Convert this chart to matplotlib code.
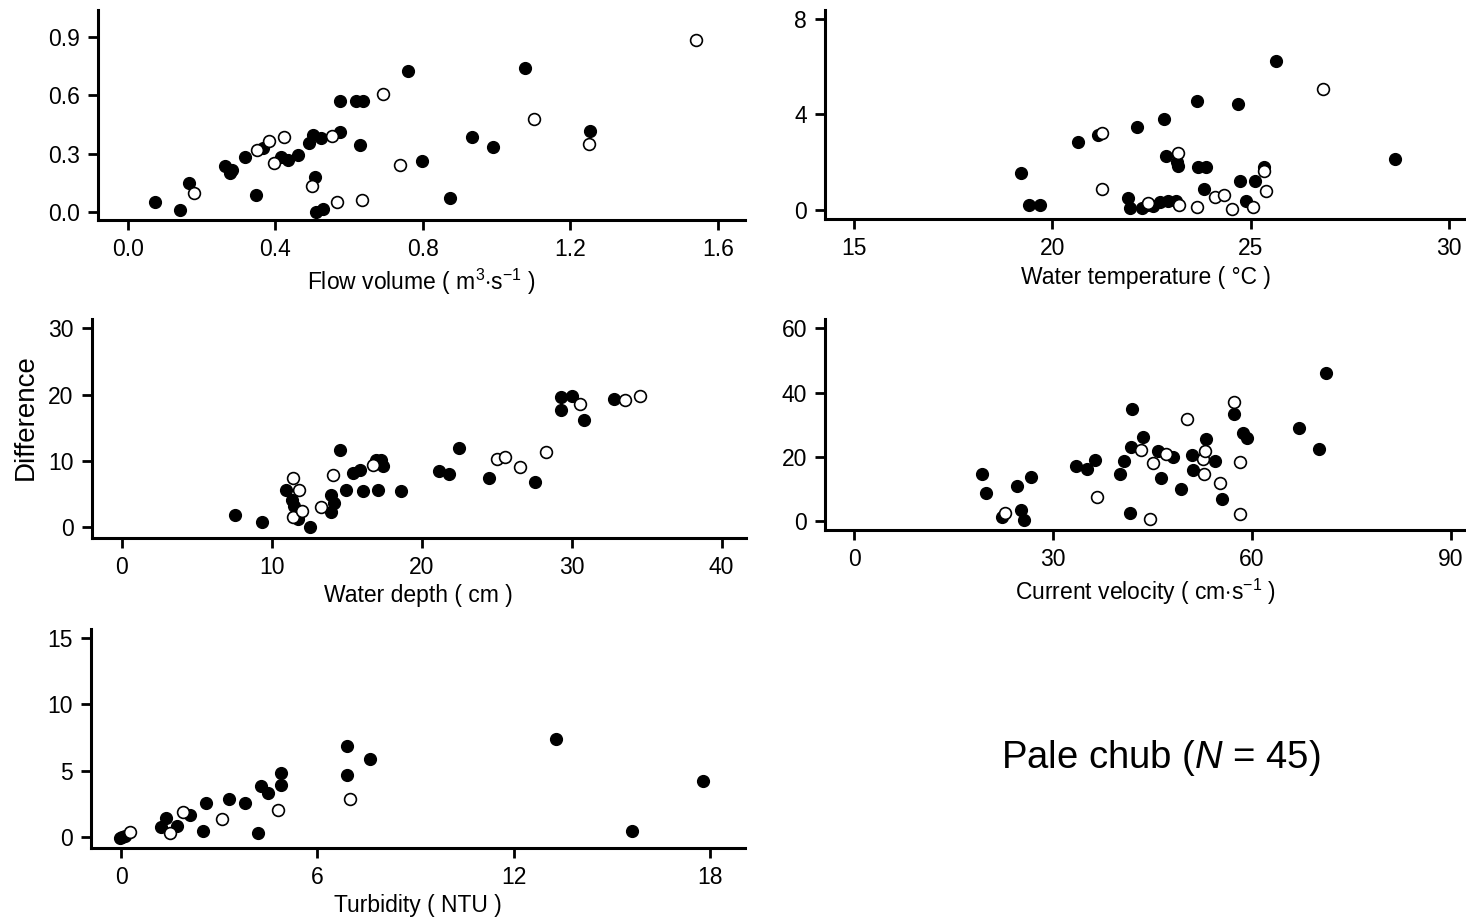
import matplotlib
matplotlib.use("Agg")
import matplotlib.pyplot as plt

plt.rcParams['font.family'] = ['Liberation Sans', 'DejaVu Sans']
plt.rcParams['mathtext.fontset'] = 'custom'
plt.rcParams['mathtext.rm'] = 'Liberation Sans'
plt.rcParams['mathtext.it'] = 'Liberation Sans:italic'

# ---- flow volume ----
flow_x_filled = [0.074, 0.143, 0.166, 0.265, 0.278, 0.283, 0.318, 0.347, 0.368, 0.417,
                 0.434, 0.462, 0.491, 0.503, 0.523, 0.509, 0.512, 0.529, 0.575, 0.575,
                 0.619, 0.637, 0.631, 0.760, 0.797, 0.874, 0.933, 0.990, 1.078, 1.255]
flow_y_filled = [0.048, 0.009, 0.148, 0.236, 0.202, 0.215, 0.284, 0.088, 0.331, 0.284,
                 0.267, 0.291, 0.353, 0.397, 0.381, 0.178, -0.002, 0.014, 0.409, 0.569,
                 0.569, 0.569, 0.343, 0.728, 0.260, 0.071, 0.388, 0.333, 0.741, 0.417]
flow_x_open = [0.181, 0.351, 0.383, 0.425, 0.398, 0.501, 0.554, 0.568, 0.635, 0.693,
               0.739, 1.101, 1.251, 1.541]
flow_y_open = [0.097, 0.316, 0.364, 0.384, 0.253, 0.131, 0.391, 0.048, 0.059, 0.605,
               0.241, 0.479, 0.347, 0.886]

# ---- water temperature ----
temp_x_filled = [19.21, 19.41, 19.69, 20.64, 21.15, 22.13, 22.81, 22.86, 23.14, 23.16,
                 23.64, 23.68, 23.87, 23.83, 24.68, 24.74, 25.12, 25.33, 24.89, 25.64,
                 28.63, 21.92, 21.96, 22.26, 22.39, 22.54, 22.71, 22.92, 23.12]
temp_y_filled = [1.52, 0.20, 0.20, 2.84, 3.13, 3.49, 3.80, 2.25, 1.99, 1.85,
                 4.55, 1.81, 1.80, 0.88, 4.45, 1.19, 1.22, 1.78, 0.38, 6.25,
                 2.13, 0.49, 0.06, 0.07, 0.21, 0.14, 0.34, 0.35, 0.38]
temp_x_open = [21.26, 23.18, 25.34, 25.38, 21.26, 22.42, 23.20, 23.64, 24.11, 24.32,
               24.53, 25.06, 26.83]
temp_y_open = [3.21, 2.37, 1.61, 0.80, 0.88, 0.29, 0.21, 0.11, 0.55, 0.62,
               0.01, 0.11, 5.05]

# ---- water depth ----
depth_x_filled = [7.54, 9.37, 10.93, 11.35, 11.51, 11.77, 12.55, 13.92, 14.15, 13.92,
                  14.54, 14.93, 15.41, 15.90, 16.07, 16.94, 17.27, 17.40, 17.07, 18.60,
                  21.17, 21.82, 22.50, 24.46, 27.58, 29.27, 30.05, 29.27, 30.83, 32.85]
depth_y_filled = [1.91, 0.81, 5.69, 4.13, 3.22, 1.31, 0.10, 4.93, 3.62, 2.37,
                  11.68, 5.69, 8.25, 8.71, 5.49, 10.17, 10.07, 9.26, 5.64, 5.49,
                  8.50, 8.00, 11.88, 7.40, 6.84, 19.58, 19.83, 17.72, 16.10, 19.33]
depth_x_open = [11.38, 11.84, 11.38, 12.00, 13.27, 14.08, 16.78, 25.01, 25.56, 26.57,
                28.29, 30.57, 33.59, 34.54]
depth_y_open = [7.40, 5.64, 1.51, 2.42, 3.12, 7.95, 9.36, 10.32, 10.57, 9.16,
                11.32, 18.52, 19.22, 19.83]

# ---- current velocity ----
vel_x_filled = [19.34, 19.91, 24.53, 25.10, 22.31, 25.60, 26.68, 33.44, 35.08, 36.35,
                40.14, 40.71, 41.72, 41.97, 41.66, 43.49, 45.83, 46.33, 48.04, 49.37,
                51.01, 51.14, 53.10, 54.42, 55.44, 57.33, 58.66, 59.29, 67.07, 70.10, 71.24]
vel_y_filled = [14.55, 8.63, 10.92, 3.43, 1.14, 0.42, 13.72, 17.26, 16.22, 18.92,
                14.66, 18.71, 23.08, 34.82, 2.60, 26.09, 21.83, 13.51, 19.96, 9.98,
                20.48, 16.01, 25.57, 18.82, 6.86, 33.16, 27.34, 25.78, 29.11, 22.35, 46.05]
vel_x_open = [22.76, 36.66, 43.30, 45.07, 46.97, 44.63, 50.13, 52.65, 52.91, 52.84,
              55.12, 57.27, 58.22, 58.22]
vel_y_open = [2.39, 7.59, 22.04, 18.09, 20.89, 0.62, 31.91, 19.33, 21.73, 14.55,
              11.95, 36.90, 18.40, 2.29]

# ---- turbidity ----
turb_x_filled = [-0.03, 0.03, 0.12, 1.21, 1.39, 1.71, 2.11, 2.50, 2.60, 3.31,
                 3.80, 4.20, 4.29, 4.49, 4.90, 4.90, 6.91, 6.91, 7.60, 13.30,
                 15.62, 17.80]
turb_y_filled = [-0.08, 0.05, 0.10, 0.75, 1.43, 0.88, 1.68, 0.50, 2.59, 2.86,
                 2.59, 0.30, 3.84, 3.37, 3.97, 4.87, 4.67, 6.86, 5.88, 7.39,
                 0.50, 4.27]
turb_x_open = [0.29, 1.49, 1.90, 3.10, 4.80, 7.01]
turb_y_open = [0.38, 0.30, 1.91, 1.41, 2.09, 2.89]

W, H = 1466, 918
fig = plt.figure(figsize=(W / 100, H / 100), dpi=100)


def make_ax(left, right, top, bottom):
    return fig.add_axes([left / W, 1 - bottom / H, (right - left) / W, (bottom - top) / H])


def draw(ax, xf, yf, xo, yo, xlim, ylim, xticks, yticks, xtl, ytl, xlabel):
    ax.scatter(xf, yf, s=72, c='black', edgecolors='black', linewidths=1.0, zorder=3)
    ax.scatter(xo, yo, s=72, facecolors='white', edgecolors='black', linewidths=1.2, zorder=3)
    ax.set_xlim(xlim)
    ax.set_ylim(ylim)
    ax.set_xticks(xticks)
    ax.set_xticklabels(xtl)
    ax.set_yticks(yticks)
    ax.set_yticklabels(ytl)
    for s in ['top', 'right']:
        ax.spines[s].set_visible(False)
    for s in ['left', 'bottom']:
        ax.spines[s].set_linewidth(2.2)
    ax.tick_params(direction='out', length=7, width=2.0, labelsize=16.5, pad=6)
    ax.set_xlabel(xlabel, fontsize=16.5, labelpad=4)
    ax.patch.set_alpha(0)


ax1 = make_ax(98, 745, 10, 220)
draw(ax1, flow_x_filled, flow_y_filled, flow_x_open, flow_y_open,
     (-0.0805, 1.674), (-0.0428, 1.041),
     [0.0, 0.4, 0.8, 1.2, 1.6], [0.0, 0.3, 0.6, 0.9],
     ['0.0', '0.4', '0.8', '1.2', '1.6'], ['0.0', '0.3', '0.6', '0.9'],
     r'Flow volume ( m$^{3}$$\cdot$s$^{-1}$ )')

ax2 = make_ax(825, 1466, 10, 219)
draw(ax2, temp_x_filled, temp_y_filled, temp_x_open, temp_y_open,
     (14.27, 30.43), (-0.39, 8.38),
     [15, 20, 25, 30], [0, 4, 8],
     ['15', '20', '25', '30'], ['0', '4', '8'],
     'Water temperature ( \u00b0C )')

ax3 = make_ax(91.5, 746, 319, 537.7)
draw(ax3, depth_x_filled, depth_y_filled, depth_x_open, depth_y_open,
     (-2.03, 41.63), (-1.57, 31.4),
     [0, 10, 20, 30, 40], [0, 10, 20, 30],
     ['0', '10', '20', '30', '40'], ['0', '10', '20', '30'],
     'Water depth ( cm )')

ax4 = make_ax(825, 1466, 319, 530)
draw(ax4, vel_x_filled, vel_y_filled, vel_x_open, vel_y_open,
     (-4.42, 92.3), (-2.81, 62.9),
     [0, 30, 60, 90], [0, 20, 40, 60],
     ['0', '30', '60', '90'], ['0', '20', '40', '60'],
     r'Current velocity ( cm$\cdot$s$^{-1}$ )')

ax5 = make_ax(91, 745, 629, 847.7)
draw(ax5, turb_x_filled, turb_y_filled, turb_x_open, turb_y_open,
     (-0.917, 19.07), (-0.78, 15.67),
     [0, 6, 12, 18], [0, 5, 10, 15],
     ['0', '6', '12', '18'], ['0', '5', '10', '15'],
     'Turbidity ( NTU )')

fig.text(26 / W, 1 - 417 / H, 'Difference', rotation=90, fontsize=20,
         ha='center', va='center')
fig.text(1161 / W, 1 - 758 / H, r'Pale chub ($\mathit{N}$ = 45)', fontsize=27.5,
         ha='center', va='center')

fig.savefig('out.png', dpi=100)
